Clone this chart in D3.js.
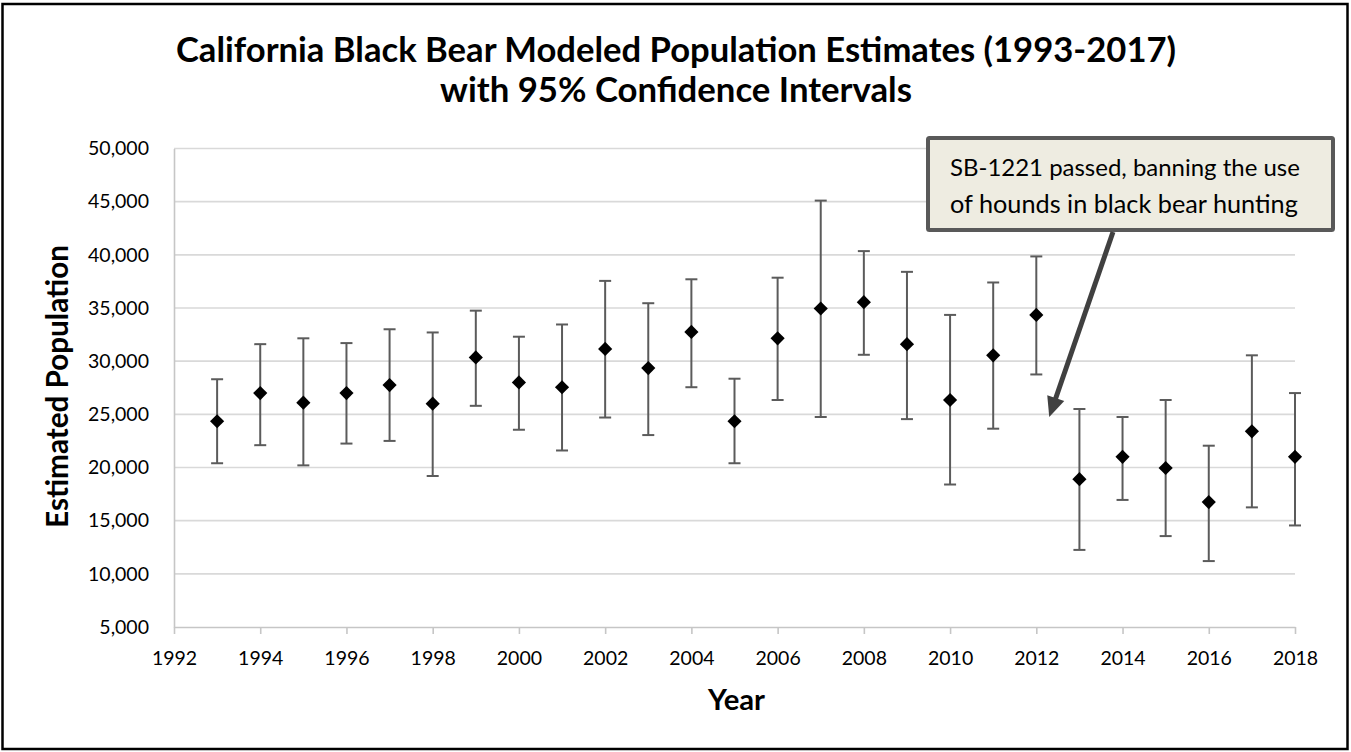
<!DOCTYPE html>
<html>
<head>
<meta charset="utf-8">
<script src="https://cdn.jsdelivr.net/npm/d3@7"></script>
<style>
  html, body { margin: 0; padding: 0; background: #fff; }
  svg { display: block; }
  text { font-family: Lato, "Open Sans", "DejaVu Sans", sans-serif; fill: #000; }
</style>
</head>
<body>
<svg id="chart" width="1351" height="752"></svg>
<script>
// Modeled population estimates with 95% confidence bounds
const years    = [1993, 1994, 1995, 1996, 1997, 1998, 1999, 2000, 2001, 2002, 2003, 2004, 2005,
                  2006, 2007, 2008, 2009, 2010, 2011, 2012, 2013, 2014, 2015, 2016, 2017, 2018];
const estimate = [24350, 27000, 26100, 27000, 27750, 26000, 30350, 28000, 27550, 31150, 29350, 32750, 24350,
                  32150, 34950, 35550, 31600, 26350, 30550, 34350, 18900, 21000, 19950, 16750, 23400, 21000];
const upper    = [28300, 31600, 32150, 31700, 33000, 32700, 34750, 32300, 33450, 37550, 35450, 37700, 28350,
                  37850, 45100, 40350, 38400, 34350, 37400, 39850, 25500, 24750, 26350, 22050, 30550, 27000];
const lower    = [20400, 22100, 20200, 22250, 22500, 19200, 25800, 23550, 21600, 24700, 23050, 27550, 20400,
                  26350, 24750, 30600, 24550, 18400, 23650, 28750, 12250, 16950, 13550, 11200, 16250, 14550];

const xTicks = [1992, 1994, 1996, 1998, 2000, 2002, 2004, 2006, 2008, 2010, 2012, 2014, 2016, 2018];
const yTicks = [5000, 10000, 15000, 20000, 25000, 30000, 35000, 40000, 45000, 50000];

const titleLines = ["California Black Bear Modeled Population Estimates (1993-2017)",
                    "with 95% Confidence Intervals"];
const noteLines  = ["SB-1221 passed, banning the use",
                    "of hounds in black bear hunting"];
const noteYear = 2012.3, noteValue = 24750;   // where the callout arrow points

const svg = d3.select("#chart");
const W = 1351, H = 752;
const plot = { left: 174, right: 1295, top: 148.5, bottom: 627 };

const x = d3.scaleLinear().domain([1992, 2018]).range([plot.left, plot.right]);
const y = d3.scaleLinear().domain([5000, 50000]).range([plot.bottom, plot.top]);

// shrink/grow a text element's font so it spans a given width
function fitWidth(sel, target) {
  const node = sel.node();
  const fs = parseFloat(sel.attr("font-size"));
  const w = node.getComputedTextLength();
  if (w > 0) sel.attr("font-size", (fs * target / w).toFixed(2));
}

// outer frame
svg.append("rect")
  .attr("x", 2.5).attr("y", 4).attr("width", W - 6).attr("height", H - 7)
  .attr("fill", "#fff").attr("stroke", "#000").attr("stroke-width", 2.5);

// title
const titleWidths = [1000, 472];
titleLines.forEach((t, i) => {
  const el = svg.append("text")
    .attr("x", 676).attr("y", 62 + i * 40)
    .attr("text-anchor", "middle")
    .attr("font-size", 34).attr("font-weight", 700)
    .text(t);
  fitWidth(el, titleWidths[i]);
});

// horizontal gridlines
svg.append("g")
  .selectAll("line")
  .data(yTicks.filter(v => v > 5000))
  .join("line")
  .attr("x1", plot.left).attr("x2", plot.right)
  .attr("y1", d => y(d)).attr("y2", d => y(d))
  .attr("stroke", "#d9d9d9").attr("stroke-width", 1.6);

// y axis
const yAxis = svg.append("g")
  .attr("transform", `translate(${plot.left},0)`)
  .call(d3.axisLeft(y).tickValues(yTicks).tickSize(0).tickPadding(25)
        .tickFormat(d3.format(",")));
yAxis.select(".domain").attr("stroke", "#c6c6c6").attr("stroke-width", 1.6);
yAxis.selectAll("text").attr("font-size", 19.5).attr("font-family", null).attr("fill", "#000");

// x axis
const xAxis = svg.append("g")
  .attr("transform", `translate(0,${plot.bottom})`)
  .call(d3.axisBottom(x).tickValues(xTicks).tickSize(7).tickPadding(17)
        .tickFormat(d3.format("d")).tickSizeOuter(0));
xAxis.select(".domain").attr("stroke", "#c6c6c6").attr("stroke-width", 1.6);
xAxis.selectAll(".tick line").attr("stroke", "#c6c6c6").attr("stroke-width", 1.6);
xAxis.selectAll("text").attr("font-size", 19.5).attr("font-family", null).attr("fill", "#000");

// axis titles
const xt = svg.append("text")
  .attr("x", 736.5).attr("y", 710)
  .attr("text-anchor", "middle")
  .attr("font-size", 27.5).attr("font-weight", 700)
  .text("Year");
fitWidth(xt, 57);

const yt = svg.append("text")
  .attr("transform", "translate(68,386.5) rotate(-90)")
  .attr("text-anchor", "middle")
  .attr("font-size", 27.5).attr("font-weight", 700)
  .text("Estimated Population");
fitWidth(yt, 283);

// error bars
const capHalf = 6;
const bars = svg.append("g")
  .selectAll("g")
  .data(years.map((yr, i) => ({ yr, est: estimate[i], hi: upper[i], lo: lower[i] })))
  .join("g")
  .attr("stroke", "#5b5b5b").attr("stroke-width", 2);
bars.append("line")
  .attr("x1", d => x(d.yr)).attr("x2", d => x(d.yr))
  .attr("y1", d => y(d.hi)).attr("y2", d => y(d.lo));
bars.append("line")
  .attr("x1", d => x(d.yr) - capHalf).attr("x2", d => x(d.yr) + capHalf)
  .attr("y1", d => y(d.hi)).attr("y2", d => y(d.hi));
bars.append("line")
  .attr("x1", d => x(d.yr) - capHalf).attr("x2", d => x(d.yr) + capHalf)
  .attr("y1", d => y(d.lo)).attr("y2", d => y(d.lo));

// diamond markers
const diamond = d3.symbol().type(d3.symbolDiamond2).size(128);
svg.append("g")
  .selectAll("path")
  .data(years.map((yr, i) => ({ yr, est: estimate[i] })))
  .join("path")
  .attr("d", diamond)
  .attr("transform", d => `translate(${x(d.yr)},${y(d.est)})`)
  .attr("fill", "#000");

// callout box
const box = { x: 928, y: 138, w: 405, h: 92 };
svg.append("rect")
  .attr("x", box.x).attr("y", box.y).attr("width", box.w).attr("height", box.h)
  .attr("rx", 1.5)
  .attr("fill", "#eeece1").attr("stroke", "#595959").attr("stroke-width", 4);
const noteWidths = [350, 348];
noteLines.forEach((t, i) => {
  const el = svg.append("text")
    .attr("x", 950).attr("y", 176 + i * 37)
    .attr("font-size", 23)
    .text(t);
  fitWidth(el, noteWidths[i]);
});

// callout arrow
const start = [1113, box.y + box.h + 2];
const tip = [x(noteYear), y(noteValue)];
const ang = Math.atan2(tip[1] - start[1], tip[0] - start[0]);
const headLen = 20, headHalf = 9;
const base = [tip[0] - headLen * Math.cos(ang), tip[1] - headLen * Math.sin(ang)];
svg.append("line")
  .attr("x1", start[0]).attr("y1", start[1])
  .attr("x2", base[0] + 2 * Math.cos(ang)).attr("y2", base[1] + 2 * Math.sin(ang))
  .attr("stroke", "#404040").attr("stroke-width", 5);
const px = -Math.sin(ang), py = Math.cos(ang);
svg.append("path")
  .attr("d", d3.line()([
    tip,
    [base[0] + px * headHalf, base[1] + py * headHalf],
    [base[0] - px * headHalf, base[1] - py * headHalf]
  ]) + "Z")
  .attr("fill", "#404040");
</script>
</body>
</html>
